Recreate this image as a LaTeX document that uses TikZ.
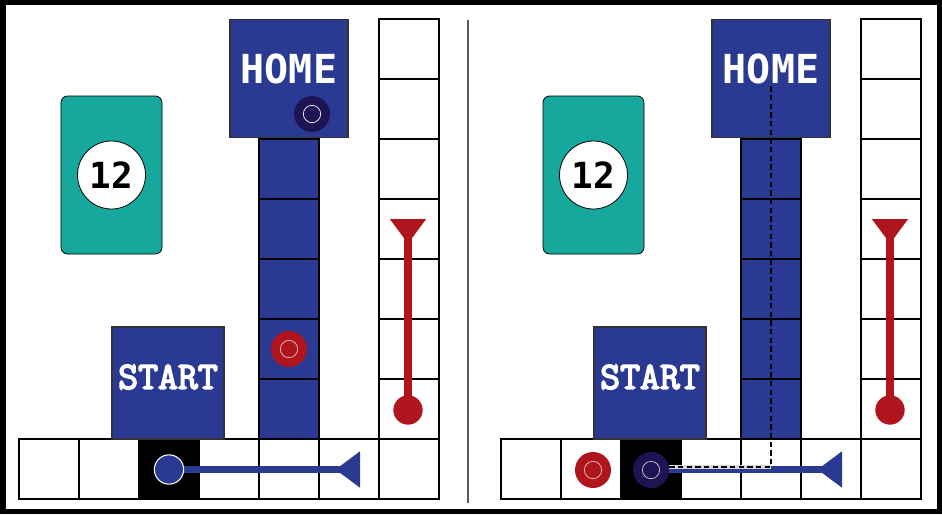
\documentclass[tikz,border=0pt]{standalone}
\usepackage{fontspec}
\usetikzlibrary{arrows.meta,positioning}
\newfontfamily\boardfont{DejaVu Sans Mono}
\newfontfamily\startfont{Latin Modern Mono}[FakeBold=4]
\definecolor{PawnBlue}{RGB}{42,57,145}
\definecolor{PawnNavy}{RGB}{30,20,84}
\definecolor{PawnRed}{RGB}{176,20,28}
\definecolor{CardTeal}{RGB}{22,168,156}

\begin{document}
\begin{tikzpicture}[x=0.75pt,y=-0.75pt,>=Latex,
  cell/.style={draw=black,line width=0.8pt},
  zone/.style={draw=black!80,line width=0.8pt,fill=PawnBlue,inner sep=0pt},
  pawn/.style={circle,minimum size=27pt,inner sep=0pt,fill=#1},
  tail/.style={circle,minimum size=22pt,inner sep=0pt,fill=#1},
  move/.style={line width=5.5pt,#1,-{Triangle[reversed,length=18.5pt,width=26pt]}},
  trail/.style={dashed,line width=1.5pt,dash pattern=on 4pt off 2.5pt}]
  \useasboundingbox (0,0) rectangle (942,514);
  \fill[black] (0,0) rectangle (942,514);
  \fill[white] (6,5) rectangle (937,509);
  \draw[black!65,line width=1.5pt] (468,20) -- (468,503);
  \foreach \dx/\p in {0/L,482/R}{
    \begin{scope}[shift={(\dx,0)}]
      % track along the bottom and up the side
      \foreach \i in {0,...,6}
        \draw[cell,fill=white] ({19+60*\i},439) rectangle ++(60,60);
      \draw[cell,fill=black] (139,439) rectangle ++(60,60);
      \foreach \j in {0,...,6}
        \draw[cell,fill=white] (379,{19+60*\j}) rectangle ++(60,60);
      % safety zone
      \foreach \j in {0,...,4}
        \draw[cell,fill=PawnBlue] (259,{139+60*\j}) rectangle ++(60,60);
      \node[zone,minimum width=88.5pt,minimum height=89pt] (home\p) at (289,78.5) {};
      \node[text=white,font=\boardfont\bfseries\fontsize{30}{30}\selectfont]
        at ([yshift=7pt]home\p.center) {HOME};
      \node[zone,minimum width=84pt,minimum height=84pt] (start\p) at (168,383) {};
      \node[text=white,font=\startfont\fontsize{29}{29}\selectfont]
        at ([yshift=4.5pt]start\p.center) {START};
      % card
      \node[draw=black,line width=0.6pt,fill=CardTeal,rounded corners=5pt,
        minimum width=75.75pt,minimum height=118.5pt] (card\p) at (111.5,175) {};
      \node[circle,draw=black,line width=0.6pt,fill=white,minimum size=51pt,inner sep=0pt,
        font=\boardfont\bfseries\fontsize{27}{27}\selectfont] (num\p) at (card\p.center) {12};
      % moves
      \node[tail=PawnRed] (rs\p) at (408,410) {};
      \coordinate (re\p) at (408,219);
      \draw[move=PawnRed] (rs\p.center) -- (re\p);
      \coordinate (be\p) at (360,469.5);
      \draw[move=PawnBlue] (169,469.5) -- (be\p);
      \node[tail=PawnBlue,draw=white,line width=0.8pt] (bs\p) at (169,469.5) {};
    \end{scope}
  }
  % left board
  \node[pawn=PawnNavy] (navyL) at (312,114) {};
  \draw[white,line width=0.5pt] (navyL) circle (6.5pt);
  \node[pawn=PawnRed] (redL) at (289,349) {};
  \draw[white!80!PawnRed,line width=0.5pt] (redL) circle (6.5pt);
  % right board
  \node[pawn=PawnRed] (redR) at (593,470) {};
  \draw[white!80!PawnRed,line width=0.5pt] (redR) circle (6.5pt);
  \node[pawn=PawnNavy] (navyR) at (651,470) {};
  \draw[white!80!PawnNavy,line width=0.5pt] (navyR) circle (6.5pt);
  \draw[trail,preaction={draw=black!15,solid,line width=3pt}]
    ([yshift=2.5pt]navyR.east) -- ([yshift=2.5pt]navyR.east -| homeR.center);
  \draw[trail] ([yshift=2.5pt]navyR.east) -| ([yshift=-5pt]homeR.center);
\end{tikzpicture}
\end{document}
